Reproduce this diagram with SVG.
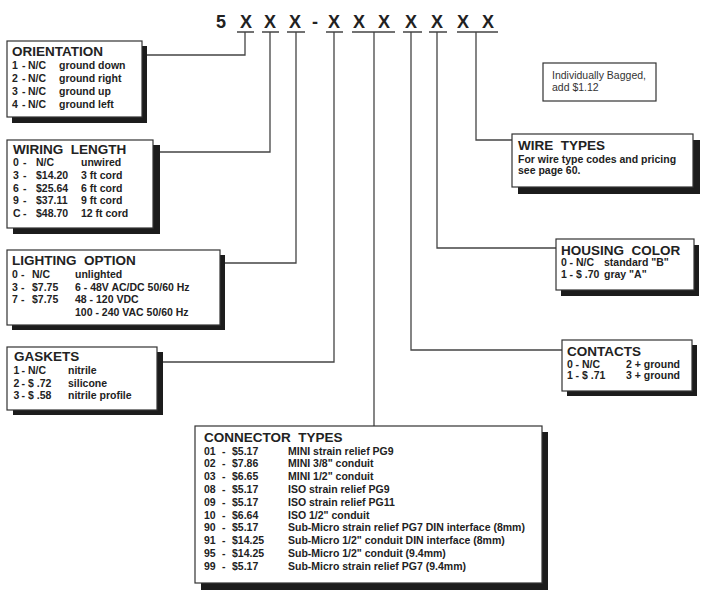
<svg xmlns="http://www.w3.org/2000/svg" width="709" height="598" viewBox="0 0 709 598">
<style>
  .bg{fill:#ffffff}
  .box{fill:#ffffff;stroke:#333333;stroke-width:1.2}
  .sh{fill:#1c1c1c}
  .ln{fill:none;stroke:#444444;stroke-width:1.3}
  .code{font-family:"Liberation Sans",Arial,sans-serif;font-weight:bold;font-size:18px;fill:#222222}
  .t{font-family:"Liberation Sans",Arial,sans-serif;font-weight:bold;font-size:13.5px;fill:#222222;white-space:pre}
  .r{font-family:"Liberation Sans",Arial,sans-serif;font-weight:bold;font-size:10.5px;fill:#222222;white-space:pre}
  .n{font-family:"Liberation Sans",Arial,sans-serif;font-weight:normal;font-size:10.5px;fill:#333333}
</style>
<rect class="bg" x="0" y="0" width="709" height="598"/>

<g id="part-code">
  <text class="code" x="221" y="28" text-anchor="middle">5</text>
  <text class="code" x="246" y="28" text-anchor="middle">X</text>
  <text class="code" x="270" y="28" text-anchor="middle">X</text>
  <text class="code" x="295" y="28" text-anchor="middle">X</text>
  <text class="code" x="315" y="28" text-anchor="middle">-</text>
  <text class="code" x="334" y="28" text-anchor="middle">X</text>
  <text class="code" x="359" y="28" text-anchor="middle">X</text>
  <text class="code" x="384" y="28" text-anchor="middle">X</text>
  <text class="code" x="411" y="28" text-anchor="middle">X</text>
  <text class="code" x="437" y="28" text-anchor="middle">X</text>
  <text class="code" x="463" y="28" text-anchor="middle">X</text>
  <text class="code" x="488" y="28" text-anchor="middle">X</text>
</g>

<g id="connectors">
  <path class="ln" d="M237 32H254M262 32H279M287 32H305M326 32H343M352 32H395M403 32H422M429 32H447M457 32H498"/>
  <path class="ln" d="M245 32V55H147"/>
  <path class="ln" d="M270 32V152H160"/>
  <path class="ln" d="M296 32V263H225"/>
  <path class="ln" d="M334 32V362H163"/>
  <path class="ln" d="M374 32V426"/>
  <path class="ln" d="M411 32V350H562"/>
  <path class="ln" d="M437 32V248H556"/>
  <path class="ln" d="M476 32V140H512"/>
</g>

<g id="orientation">
  <rect class="sh" x="12" y="46" width="135" height="77"/>
  <rect class="box" x="7" y="41" width="135" height="76"/>
  <text class="t" x="12" y="56">ORIENTATION</text>
  <text class="r" y="69"><tspan x="12">1</tspan><tspan x="22">-</tspan><tspan x="28">N/C</tspan><tspan x="59">ground down</tspan></text>
  <text class="r" y="82"><tspan x="12">2</tspan><tspan x="22">-</tspan><tspan x="28">N/C</tspan><tspan x="59">ground right</tspan></text>
  <text class="r" y="95"><tspan x="12">3</tspan><tspan x="22">-</tspan><tspan x="28">N/C</tspan><tspan x="59">ground up</tspan></text>
  <text class="r" y="108"><tspan x="12">4</tspan><tspan x="22">-</tspan><tspan x="28">N/C</tspan><tspan x="59">ground left</tspan></text>
</g>

<g id="wiring-length">
  <rect class="sh" x="13" y="145" width="147" height="89"/>
  <rect class="box" x="7" y="140" width="146" height="88"/>
  <text class="t" x="13" y="154">WIRING  LENGTH</text>
  <text class="r" y="166"><tspan x="13">0</tspan><tspan x="23">-</tspan><tspan x="36">N/C</tspan><tspan x="81">unwired</tspan></text>
  <text class="r" y="179"><tspan x="13">3</tspan><tspan x="23">-</tspan><tspan x="36">$14.20</tspan><tspan x="81">3 ft cord</tspan></text>
  <text class="r" y="191.5"><tspan x="13">6</tspan><tspan x="23">-</tspan><tspan x="36">$25.64</tspan><tspan x="81">6 ft cord</tspan></text>
  <text class="r" y="204"><tspan x="13">9</tspan><tspan x="23">-</tspan><tspan x="36">$37.11</tspan><tspan x="81">9 ft cord</tspan></text>
  <text class="r" y="217"><tspan x="13">C</tspan><tspan x="23">-</tspan><tspan x="36">$48.70</tspan><tspan x="81">12 ft cord</tspan></text>
</g>

<g id="lighting-option">
  <rect class="sh" x="12" y="255" width="213" height="75"/>
  <rect class="box" x="7" y="250" width="213" height="75"/>
  <text class="t" x="12" y="265">LIGHTING  OPTION</text>
  <text class="r" y="277.5"><tspan x="12">0</tspan><tspan x="21">-</tspan><tspan x="32">N/C</tspan><tspan x="75">unlighted</tspan></text>
  <text class="r" y="290.5"><tspan x="12">3</tspan><tspan x="21">-</tspan><tspan x="32">$7.75</tspan><tspan x="75">6 - 48V AC/DC 50/60 Hz</tspan></text>
  <text class="r" y="303"><tspan x="12">7</tspan><tspan x="21">-</tspan><tspan x="32">$7.75</tspan><tspan x="75">48 - 120 VDC</tspan></text>
  <text class="r" y="315.5"><tspan x="75">100 - 240 VAC 50/60 Hz</tspan></text>
</g>

<g id="gaskets">
  <rect class="sh" x="13" y="352" width="150" height="63"/>
  <rect class="box" x="7" y="347" width="150" height="63"/>
  <text class="t" x="14" y="361">GASKETS</text>
  <text class="r" y="373.5"><tspan x="13.5">1</tspan><tspan x="21.5">-</tspan><tspan x="28">N/C</tspan><tspan x="68">nitrile</tspan></text>
  <text class="r" y="386.5"><tspan x="13.5">2</tspan><tspan x="21.5">-</tspan><tspan x="28">$ .72</tspan><tspan x="68">silicone</tspan></text>
  <text class="r" y="399"><tspan x="13.5">3</tspan><tspan x="21.5">-</tspan><tspan x="28">$ .58</tspan><tspan x="68">nitrile profile</tspan></text>
</g>

<g id="connector-types">
  <rect class="sh" x="201" y="432" width="347" height="158"/>
  <rect class="box" x="195" y="426" width="347" height="157"/>
  <text class="t" x="204" y="442">CONNECTOR  TYPES</text>
  <text class="r" y="454.5"><tspan x="204">01</tspan><tspan x="222">-</tspan><tspan x="232">$5.17</tspan><tspan x="288">MINI strain relief PG9</tspan></text>
  <text class="r" y="467.3"><tspan x="204">02</tspan><tspan x="222">-</tspan><tspan x="232">$7.86</tspan><tspan x="288">MINI 3/8" conduit</tspan></text>
  <text class="r" y="480.1"><tspan x="204">03</tspan><tspan x="222">-</tspan><tspan x="232">$6.65</tspan><tspan x="288">MINI 1/2" conduit</tspan></text>
  <text class="r" y="492.9"><tspan x="204">08</tspan><tspan x="222">-</tspan><tspan x="232">$5.17</tspan><tspan x="288">ISO strain relief PG9</tspan></text>
  <text class="r" y="505.7"><tspan x="204">09</tspan><tspan x="222">-</tspan><tspan x="232">$5.17</tspan><tspan x="288">ISO strain relief PG11</tspan></text>
  <text class="r" y="518.5"><tspan x="204">10</tspan><tspan x="222">-</tspan><tspan x="232">$6.64</tspan><tspan x="288">ISO 1/2" conduit</tspan></text>
  <text class="r" y="531.3"><tspan x="204">90</tspan><tspan x="222">-</tspan><tspan x="232">$5.17</tspan><tspan x="288">Sub-Micro strain relief PG7 DIN interface (8mm)</tspan></text>
  <text class="r" y="544.1"><tspan x="204">91</tspan><tspan x="222">-</tspan><tspan x="232">$14.25</tspan><tspan x="288">Sub-Micro 1/2" conduit DIN interface (8mm)</tspan></text>
  <text class="r" y="556.9"><tspan x="204">95</tspan><tspan x="222">-</tspan><tspan x="232">$14.25</tspan><tspan x="288">Sub-Micro 1/2" conduit (9.4mm)</tspan></text>
  <text class="r" y="569.5"><tspan x="204">99</tspan><tspan x="222">-</tspan><tspan x="232">$5.17</tspan><tspan x="288">Sub-Micro strain relief PG7 (9.4mm)</tspan></text>
</g>

<g id="individually-bagged">
  <rect class="box" x="543" y="63" width="113" height="38" stroke-width="1"/>
  <text class="n" x="552" y="78.5">Individually Bagged,</text>
  <text class="n" x="552" y="91">add $1.12</text>
</g>

<g id="wire-types">
  <rect class="sh" x="518" y="140" width="182" height="54"/>
  <rect class="box" x="512" y="134" width="181" height="53"/>
  <text class="t" x="518" y="150">WIRE  TYPES</text>
  <text class="r" x="518" y="162.5">For wire type codes and pricing</text>
  <text class="r" x="518" y="174">see page 60.</text>
</g>

<g id="housing-color">
  <rect class="sh" x="561" y="245" width="138" height="51"/>
  <rect class="box" x="556" y="239" width="138" height="51"/>
  <text class="t" x="561" y="254.5">HOUSING  COLOR</text>
  <text class="r" y="266"><tspan x="561">0</tspan><tspan x="569.5">-</tspan><tspan x="576">N/C</tspan><tspan x="604">standard "B"</tspan></text>
  <text class="r" y="277.5"><tspan x="561">1</tspan><tspan x="569.5">-</tspan><tspan x="576">$ .70</tspan><tspan x="604">gray "A"</tspan></text>
</g>

<g id="contacts">
  <rect class="sh" x="567" y="345" width="130" height="51"/>
  <rect class="box" x="562" y="340" width="130" height="51"/>
  <text class="t" x="567" y="356">CONTACTS</text>
  <text class="r" y="367.5"><tspan x="567">0</tspan><tspan x="575.5">-</tspan><tspan x="582">N/C</tspan><tspan x="626">2 + ground</tspan></text>
  <text class="r" y="378.5"><tspan x="567">1</tspan><tspan x="575.5">-</tspan><tspan x="582">$ .71</tspan><tspan x="626">3 + ground</tspan></text>
</g>
</svg>
